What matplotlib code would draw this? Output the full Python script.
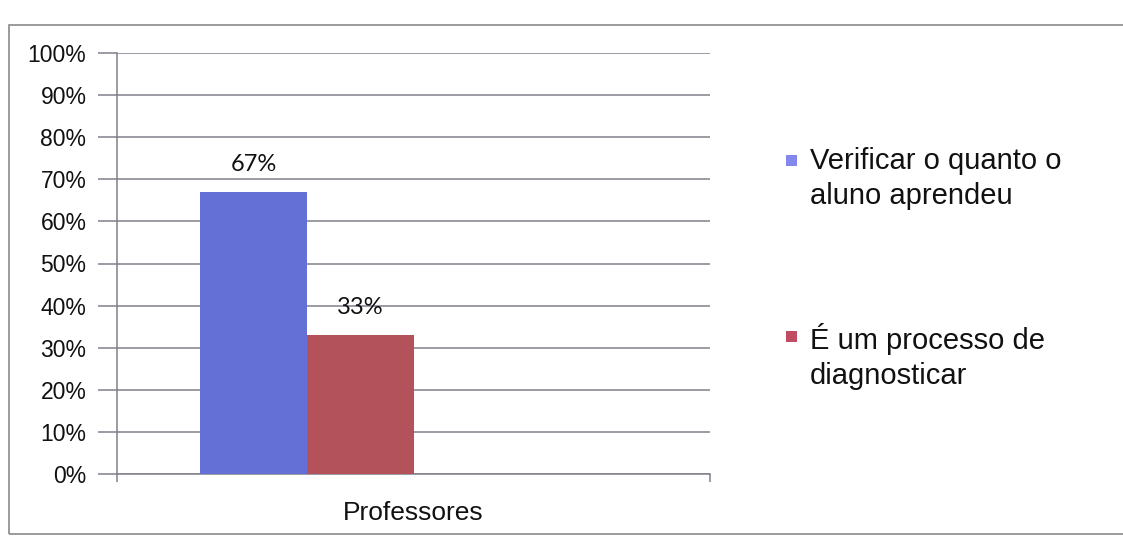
import matplotlib
matplotlib.use("Agg")
import matplotlib.pyplot as plt
from matplotlib.patches import Rectangle

# Data
category = "Professores"
series_names = ["Verificar o quanto o\naluno aprendeu", "É um processo de\ndiagnosticar"]
series_values = [67, 33]
series_labels = ["67%", "33%"]
y_ticks = [0, 10, 20, 30, 40, 50, 60, 70, 80, 90, 100]
y_tick_labels = [f"{v}%" for v in y_ticks]

bar_colors = ["#6570D6", "#B4525B"]
legend_colors = ["#8488EC", "#C04C62"]
grid_color = "#80808c"

W, H = 1123, 539
fig = plt.figure(figsize=(W / 100, H / 100), dpi=100)
fig.patch.set_facecolor("white")

# outer chart frame (open on the right)
fig.patches.append(Rectangle((9 / W, 5 / H), 1.2, (532 - 5 - 18) / H + 0.0,
                             transform=fig.transFigure, fill=False,
                             edgecolor="#8a8a8a", linewidth=1.2))

ax = fig.add_axes([117 / W, 65 / H, 593 / W, 421 / H])
ax.set_xlim(0, 1)
ax.set_ylim(0, 100)

# clustered bars: four slots in the cluster, two used
width = 0.18
centers = [0.5 + (i - 1.5) * width for i in range(len(series_values))]
for c, v, col, lab in zip(centers, series_values, bar_colors, series_labels):
    ax.bar(c, v, width=width, color=col, zorder=3)
    ax.annotate(lab, (c, v), xytext=(0, 12), textcoords="offset points",
                ha="center", va="bottom", fontsize=17, family="Lato", color="#111111")

ax.set_yticks(y_ticks)
ax.set_yticklabels(y_tick_labels, fontsize=16.5, family="Liberation Sans", color="#111111")
ax.yaxis.grid(True, color=grid_color, linewidth=1.1, zorder=0)
ax.tick_params(axis="y", length=14, width=1.1, color=grid_color, pad=8)
ax.set_xticks([0, 1])
ax.set_xticklabels(["", ""])
ax.tick_params(axis="x", length=6, width=1.1, color=grid_color, direction="out")
ax.text(0.5, -0.065, category, transform=ax.transAxes, ha="center", va="top",
        fontsize=19, family="Liberation Sans", color="#111111")

for side in ["top", "right"]:
    ax.spines[side].set_visible(False)
for side in ["left", "bottom"]:
    ax.spines[side].set_color(grid_color)
    ax.spines[side].set_linewidth(1.1)

# legend: square marker beside the first line of each entry
legend_rows = [161, 337]
for name, col, ty in zip(series_names, legend_colors, legend_rows):
    fig.patches.append(Rectangle((786 / W, 1 - (ty + 5) / H), 11 / W, 11 / H,
                                 transform=fig.transFigure, facecolor=col,
                                 edgecolor="none"))
    fig.text(810 / W, 1 - (ty - 14) / H, name, ha="left", va="top",
             fontsize=21, family="Liberation Sans", color="#111111",
             linespacing=1.3)

fig.savefig("out.png", dpi=100, facecolor="white")
